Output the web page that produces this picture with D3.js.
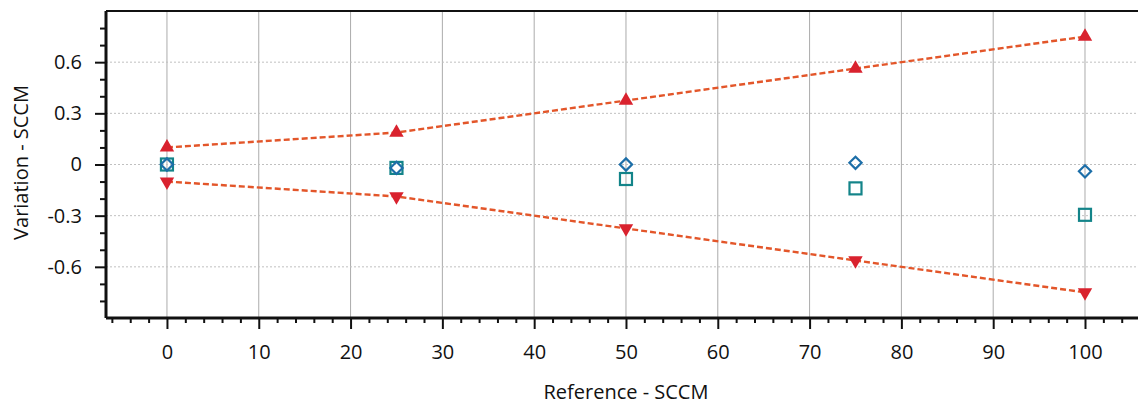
<!DOCTYPE html>
<html><head><meta charset="utf-8">
<script src="https://cdn.jsdelivr.net/npm/d3@7"></script>
<style>
html,body{margin:0;padding:0;background:#fff;}
svg text{font-family:"Open Sans","Noto Sans",sans-serif;fill:#111;}
</style></head>
<body><svg id="chart" width="1138" height="405"></svg>
<script>
const refX = [0, 25, 50, 75, 100];
const upperLimit = [0.1, 0.1875, 0.375, 0.5625, 0.75];
const lowerLimit = [-0.1, -0.1875, -0.375, -0.5625, -0.75];
const diamondVals = [0, -0.02, 0.0, 0.01, -0.04];
const squareVals = [0, -0.02, -0.085, -0.14, -0.295];
const xTicks = [0, 10, 20, 30, 40, 50, 60, 70, 80, 90, 100];
const yTicks = [-0.6, -0.3, 0, 0.3, 0.6];
const yTickLabels = ["-0.6", "-0.3", "0", "0.3", "0.6"];

const svg = d3.select("#chart");
const pL = 106, pT = 11, pB = 318, pR = 1141;
const x = d3.scaleLinear().domain([-6.64, 106.1]).range([pL, pR]);
const y = d3.scaleLinear().domain([-0.9, 0.9]).range([pB, pT]);
const FS = 20;

// grid
svg.append("g").selectAll("line").data(xTicks).join("line")
  .attr("x1", d => x(d)).attr("x2", d => x(d)).attr("y1", pT).attr("y2", pB)
  .attr("stroke", "#ababab").attr("stroke-width", 1);
svg.append("g").selectAll("line").data(yTicks).join("line")
  .attr("x1", pL).attr("x2", pR).attr("y1", d => y(d)).attr("y2", d => y(d))
  .attr("stroke", "#c0c0c0").attr("stroke-width", 1).attr("stroke-dasharray", "2,2");

// frame top
svg.append("line").attr("x1", pL).attr("x2", pR).attr("y1", pT).attr("y2", pT)
  .attr("stroke", "#111").attr("stroke-width", 2);

// minor ticks
const xMinor = d3.range(-6, 107, 2).filter(v => v % 10 !== 0);
const yMinor = d3.range(-8, 9, 1).map(v => v / 10).filter(v => Math.round(v * 10) % 3 !== 0);

const xAxisMinor = d3.axisBottom(x).tickValues(xMinor).tickSize(5).tickFormat("");
const xAxis = d3.axisBottom(x).tickValues(xTicks).tickSize(11).tickPadding(16).tickFormat(d3.format("d"));
const yAxisMinor = d3.axisLeft(y).tickValues(yMinor).tickSize(6).tickFormat("");
const yAxis = d3.axisLeft(y).tickValues(yTicks).tickSize(11).tickPadding(13)
  .tickFormat((d, i) => yTickLabels[i]);

function style(g) {
  g.select(".domain").remove();
  g.selectAll("line").attr("stroke", "#111").attr("stroke-width", 2);
  g.selectAll("text").attr("font-size", FS).attr("fill", "#111")
    .attr("font-family", '"Open Sans","Noto Sans",sans-serif');
}
svg.append("g").attr("transform", `translate(0,${pB})`).call(xAxisMinor).call(style);
svg.append("g").attr("transform", `translate(0,${pB})`).call(xAxis).call(style);
svg.append("g").attr("transform", `translate(${pL},0)`).call(yAxisMinor).call(style);
svg.append("g").attr("transform", `translate(${pL},0)`).call(yAxis).call(style);

// axis lines
svg.append("line").attr("x1", pL).attr("x2", pR).attr("y1", pB).attr("y2", pB)
  .attr("stroke", "#111").attr("stroke-width", 3);
svg.append("line").attr("x1", pL).attr("x2", pL).attr("y1", pT).attr("y2", pB)
  .attr("stroke", "#111").attr("stroke-width", 3);

// titles
svg.append("text").attr("x", x(50)).attr("y", 399).attr("text-anchor", "middle")
  .attr("font-size", FS).text("Reference - SCCM");
svg.append("text").attr("transform", `translate(28,${y(0) - 2}) rotate(-90)`).attr("text-anchor", "middle")
  .attr("font-size", FS).text("Variation - SCCM");

// limit lines
const line = d3.line().x((d, i) => x(refX[i])).y(d => y(d));
[upperLimit, lowerLimit].forEach(arr => {
  svg.append("path").attr("d", line(arr)).attr("fill", "none")
    .attr("stroke", "#e3562a").attr("stroke-width", 2.4).attr("stroke-dasharray", "6,3");
});

// triangles
const triUp = d3.symbol().type(d3.symbolTriangle).size(90);
svg.append("g").selectAll("path").data(upperLimit).join("path")
  .attr("d", triUp).attr("transform", (d, i) => `translate(${x(refX[i])},${y(d)})`)
  .attr("fill", "#d9222e");
svg.append("g").selectAll("path").data(lowerLimit).join("path")
  .attr("d", triUp).attr("transform", (d, i) => `translate(${x(refX[i])},${y(d)}) rotate(180)`)
  .attr("fill", "#d9222e");

// squares
svg.append("g").selectAll("rect").data(squareVals).join("rect")
  .attr("x", (d, i) => x(refX[i]) - 6).attr("y", d => y(d) - 6)
  .attr("width", 12).attr("height", 12)
  .attr("fill", "none").attr("stroke", "#138489").attr("stroke-width", 2.2);

// diamonds
const dia = d3.symbol().type(d3.symbolDiamond2).size(95);
svg.append("g").selectAll("path").data(diamondVals).join("path")
  .attr("d", dia).attr("transform", (d, i) => `translate(${x(refX[i])},${y(d)})`)
  .attr("fill", "none").attr("stroke", "#1c6ea8").attr("stroke-width", 2.2);
</script></body></html>
